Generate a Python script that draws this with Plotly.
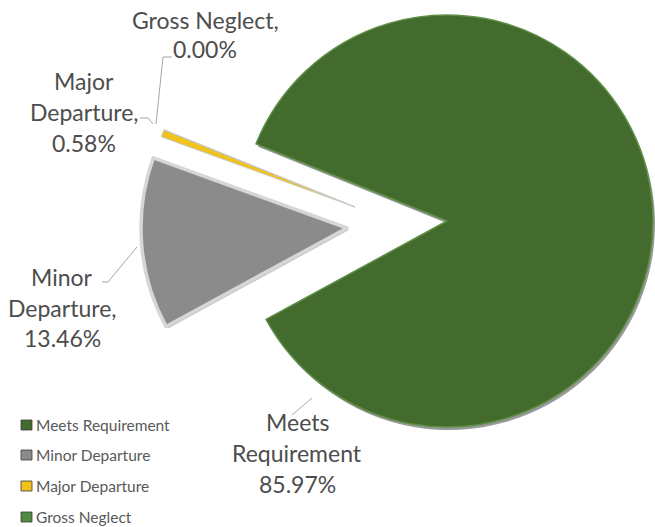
import plotly.graph_objects as go

# ---------------- data ----------------
categories = ["Meets Requirement", "Minor Departure", "Major Departure", "Gross Neglect"]
values = [85.97, 13.46, 0.58, 0.00]
label_lines = {
    "Gross Neglect": ["Gross Neglect,", "0.00%"],
    "Major Departure": ["Major", "Departure,", "0.58%"],
    "Minor Departure": ["Minor", "Departure,", "13.46%"],
    "Meets Requirement": ["Meets", "Requirement", "85.97%"],
}

# ---------------- styling ----------------
W, H = 655, 527
ROT = -68
FONT = "Lato"
TXT = "#4d4d4d"
CLEAR = "rgba(0,0,0,0)"


def dom(cx, cy, r):
    return dict(x=[max(0, (cx - r) / W), min(1, (cx + r) / W)],
                y=[max(0, 1 - (cy + r) / H), min(1, 1 - (cy - r) / H)])


def slice_trace(idx, color, line_color, line_w, domain):
    cols = [CLEAR] * len(categories)
    lcols = [CLEAR] * len(categories)
    cols[idx] = color
    lcols[idx] = line_color
    return go.Pie(labels=categories, values=values, sort=False,
                  direction="clockwise", rotation=ROT,
                  marker=dict(colors=cols, line=dict(color=lcols, width=line_w)),
                  textinfo="none", hoverinfo="skip", showlegend=False,
                  domain=domain)


fig = go.Figure()
# shadow of main slice
fig.add_trace(slice_trace(0, "rgba(70,70,70,0.55)", CLEAR, 0, dom(449, 224, 206)))
# main slice
fig.add_trace(slice_trace(0, "#446b2e", "#5e8f46", 1.5, dom(447, 221, 206)))
# exploded slices
fig.add_trace(slice_trace(1, "rgba(90,90,90,0.35)", CLEAR, 0, dom(349, 230, 206)))
fig.add_trace(slice_trace(1, "#8b8b8b", "#d6d6d6", 3.5, dom(347, 228, 206)))
fig.add_trace(slice_trace(2, "#f0c21c", "#c9c9c9", 1.0, dom(355, 207, 206)))
fig.add_trace(slice_trace(3, "#4f8a3f", "#c9c9c9", 1, dom(355, 207, 206)))

annotations = []
shapes = []


def px(x):
    return x / W


def py(y):
    return 1 - y / H


# data labels (center x, first-line y, line spacing)
label_pos = {
    "Gross Neglect": (205, 20, 29),
    "Major Departure": (84, 81, 31),
    "Minor Departure": (62, 277, 30.5),
    "Meets Requirement": (297, 422, 31),
}
for name, lines in label_lines.items():
    cx, y0, dy = label_pos[name]
    for i, t in enumerate(lines):
        annotations.append(dict(x=px(cx), y=py(y0 + i * dy), xref="paper", yref="paper",
                                text=t, showarrow=False, xanchor="center", yanchor="middle",
                                font=dict(family=FONT, size=23, color=TXT)))

# leader lines
leaders = [
    "M172,57 L163,57 L156,124",
    "M140,118 L148,118 L153,124",
    "M102,282 L108,282 L137,247",
    "M292,415 L312,398",
]


def to_paper_path(p):
    out = []
    for tok in p.split():
        cmd, xy = tok[0], tok[1:]
        x, y = map(float, xy.split(","))
        out.append(f"{cmd}{px(x):.5f},{py(y):.5f}")
    return " ".join(out)


for p in leaders:
    shapes.append(dict(type="path", path=to_paper_path(p), xref="paper", yref="paper",
                       line=dict(color="#a6a6a6", width=1)))

# legend
legend_colors = ["#446b2e", "#8b8b8b", "#f0c21c", "#4f8a3f"]
legend_y = [425, 455, 486, 517]
for name, col, y in zip(categories, legend_colors, legend_y):
    shapes.append(dict(type="rect", xref="paper", yref="paper",
                       x0=px(21), x1=px(32), y0=py(y + 5), y1=py(y - 5),
                       fillcolor=col, line=dict(color="#3a3a3a", width=0.8)))
    annotations.append(dict(x=px(34), y=py(y), xref="paper", yref="paper", text=name,
                            showarrow=False, xanchor="left", yanchor="middle",
                            font=dict(family=FONT, size=15.5, color="#595959")))

fig.update_layout(width=W, height=H, margin=dict(l=0, r=0, t=0, b=0),
                  paper_bgcolor="white", plot_bgcolor="white", showlegend=False,
                  annotations=annotations, shapes=shapes)

fig.write_html("out.html", config={"displayModeBar": False},
               post_script="document.body.style.margin='0';document.body.style.overflow='hidden';")
